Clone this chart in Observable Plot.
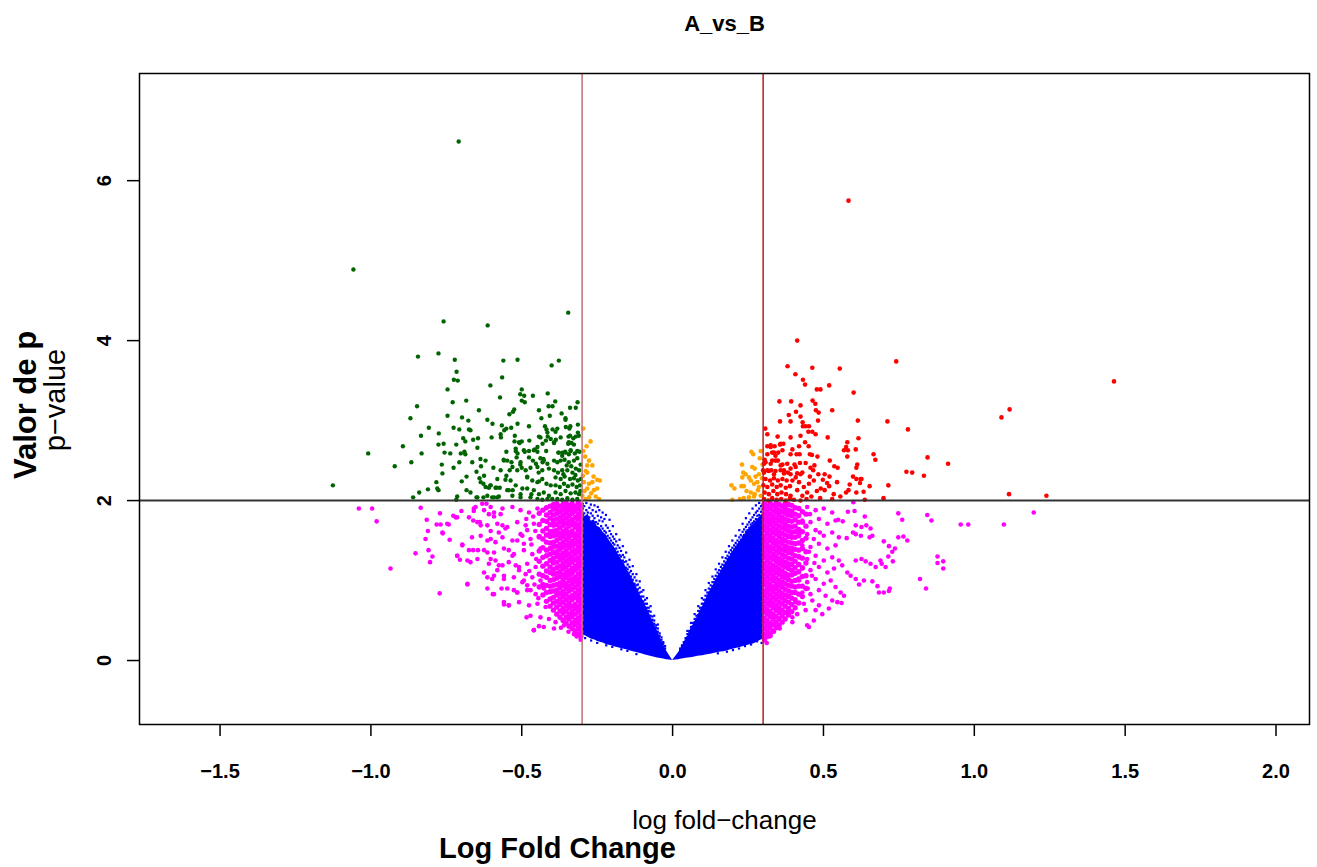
<!DOCTYPE html>
<html><head><meta charset="utf-8">
<script src="https://cdn.jsdelivr.net/npm/d3@7"></script>
<script src="https://cdn.jsdelivr.net/npm/@observablehq/plot@0.6"></script>
<style>body{margin:0;background:#fff}</style>
</head><body><div id="chart"></div>
<script>
const titleText = "A_vs_B";
const xLabelSmall = "log fold\u2212change";
const xLabelBig = "Log Fold Change";
const yLabelBig = "Valor de p";
const yLabelSmall = "p\u2212value";
const xTicks = [-1.5, -1.0, -0.5, 0.0, 0.5, 1.0, 1.5, 2.0];
const yTicks = [0, 2, 4, 6];
const fcCut = [-0.3, 0.3];
const pCut = 2;

// significant & down (green)
const greenPts = [
[-0.709,6.49],[-1.058,4.89],[-0.346,4.35],[-0.759,4.24],[-0.613,4.19],
[-0.844,3.80],[-0.776,3.84],[-0.722,3.76],[-0.561,3.75],[-0.514,3.76],[-0.377,3.75],[-0.401,3.69],
[-0.716,3.61],[-0.725,3.51],[-0.712,3.50],[-0.565,3.54],[-0.604,3.44],[-0.746,3.39],[-0.500,3.39],
[-0.505,3.33],[-0.492,3.31],[-0.463,3.31],[-0.414,3.34],[-0.572,3.29],[-0.729,3.23],[-0.684,3.25],
[-0.500,3.25],[-0.490,3.23],[-0.389,3.24],[-0.315,3.23],[-0.847,3.18],[-0.411,3.18],[-0.398,3.18],
[-0.340,3.16],[-0.321,3.16],[-0.525,3.14],[-0.529,3.11],[-0.642,3.13],[-0.443,3.13],[-0.541,3.08],
[-0.746,3.06],[-0.407,3.06],[-0.368,3.09],[-0.698,3.04],[-0.677,3.00],[-0.435,3.03],[-0.355,3.03],
[-0.869,3.03],[-0.614,3.01],[-0.597,2.96],[-0.514,2.96],[-0.314,2.95],[-0.808,2.91],[-0.726,2.91],
[-0.566,2.94],[-0.551,2.90],[-0.558,2.88],[-0.535,2.91],[-0.476,2.93],[-0.423,2.93],[-0.418,2.89],
[-0.398,2.89],[-0.388,2.86],[-0.339,2.93],[-0.342,2.90],[-0.707,2.89],[-0.675,2.89],[-0.670,2.88],
[-0.775,2.84],[-0.834,2.81],[-0.600,2.79],[-0.570,2.83],[-0.569,2.79],[-0.523,2.81],[-0.694,2.78],
[-0.661,2.76],[-0.645,2.78],[-0.443,2.80],[-0.414,2.80],[-0.387,2.76],[-0.345,2.80],[-0.329,2.78],
[-0.311,2.81],[-0.524,2.74],[-0.507,2.72],[-0.500,2.74],[-0.475,2.75],[-0.431,2.71],[-0.420,2.75],
[-0.393,2.72],[-0.346,2.71],[-0.335,2.72],[-0.776,2.70],[-0.759,2.71],[-0.717,2.70],[-0.687,2.74],
[-0.894,2.68],[-1.009,2.59],[-0.832,2.59],[-0.756,2.60],[-0.737,2.59],[-0.702,2.59],[-0.690,2.61],
[-0.687,2.58],[-0.647,2.66],[-0.551,2.61],[-0.520,2.62],[-0.514,2.59],[-0.490,2.61],[-0.476,2.62],
[-0.457,2.64],[-0.448,2.61],[-0.419,2.62],[-0.379,2.60],[-0.365,2.60],[-0.356,2.61],[-0.338,2.62],
[-0.324,2.59],[-0.309,2.61],[-0.921,2.43],[-0.866,2.48],[-0.765,2.45],[-0.726,2.41],[-0.707,2.48],
[-0.664,2.48],[-0.637,2.52],[-0.620,2.50],[-0.635,2.43],[-0.594,2.41],[-0.560,2.51],[-0.559,2.50],
[-0.540,2.38],[-0.534,2.48],[-0.505,2.45],[-0.500,2.41],[-0.471,2.41],[-0.463,2.50],[-0.453,2.46],
[-0.431,2.48],[-0.428,2.52],[-0.763,2.34],[-0.783,2.23],[-0.780,2.15],[-0.776,2.13],[-1.126,2.19],
[-0.840,2.10],[-0.811,2.14],[-0.860,2.04],[-0.699,2.24],[-0.683,2.30],[-0.683,2.13],[-0.670,2.10],
[-0.650,2.36],[-0.625,2.31],[-0.640,2.28],[-0.627,2.21],[-0.609,2.16],[-0.604,2.19],[-0.584,2.16],
[-0.573,2.16],[-0.714,2.05],[-0.717,2.01],[-0.650,2.04],[-0.627,2.04],[-0.598,2.04],[-0.581,2.04],
[-0.554,2.26],[-0.551,2.31],[-0.543,2.13],[-0.530,2.13],[-0.504,2.08],[-0.482,2.15],[-0.468,2.08],
[-0.517,2.54],[-0.487,2.38],[-0.482,2.30],[-0.444,2.35],[-0.443,2.24],
[-0.377,2.60],[-0.366,2.56],[-0.355,2.60],[-0.344,2.58],
[-0.393,2.50],[-0.382,2.48],[-0.371,2.50],[-0.358,2.51],[-0.344,2.48],[-0.327,2.50],[-0.316,2.53],
[-0.438,2.53],[-0.427,2.50],[-0.415,2.46],[-0.448,2.42],[-0.432,2.38],[-0.410,2.40],
[-0.393,2.38],[-0.380,2.35],[-0.366,2.38],[-0.349,2.38],[-0.332,2.35],[-0.321,2.40],[-0.310,2.38],
[-0.388,2.29],[-0.371,2.27],[-0.358,2.30],[-0.340,2.27],[-0.327,2.28],[-0.314,2.25],
[-0.482,2.29],[-0.465,2.25],[-0.448,2.23],[-0.432,2.27],[-0.418,2.21],[-0.404,2.19],
[-0.388,2.19],[-0.374,2.17],[-0.360,2.21],[-0.347,2.18],[-0.332,2.20],[-0.318,2.17],[-0.307,2.19],
[-0.388,2.10],[-0.371,2.08],[-0.355,2.12],[-0.338,2.09],[-0.322,2.10],[-0.310,2.08],
[-0.460,2.13],[-0.443,2.08],[-0.427,2.10],[-0.410,2.06],[-0.471,2.04],[-0.448,2.02],[-0.432,2.01],[-0.415,2.02],[-0.399,2.02],
[-0.382,2.02],[-0.366,2.01],[-0.349,2.03],[-0.332,2.01],[-0.316,2.02],
[-0.548,2.50],[-0.531,2.42],[-0.515,2.38],[-0.504,2.48],[-0.537,2.25],[-0.520,2.19],[-0.498,2.15],[-0.548,2.13],[-0.531,2.06],[-0.504,2.04],
[-0.636,2.23],[-0.620,2.17],[-0.603,2.19],[-0.587,2.16],[-0.581,2.27],[-0.570,2.38],[-0.614,2.06],[-0.592,2.04],[-0.576,2.05],[-0.647,2.04],
[-0.355,3.01],[-0.354,2.92],[-0.340,2.81],[-0.321,2.80],[-0.314,2.85],[-0.344,2.73],[-0.327,2.70],[-0.338,2.63],[-0.316,2.62],
[-0.371,2.79],[-0.382,2.90],[-0.393,2.73],[-0.404,2.77],[-0.415,2.85],[-0.438,2.79],[-0.448,2.67],[-0.460,2.63],[-0.476,2.54],
[-0.493,2.63],[-0.509,2.73],[-0.520,2.65],[-0.351,2.44],[-0.336,2.43],[-0.362,2.33],[-0.322,2.32],[-0.305,2.45],[-0.304,2.27],[-0.306,2.12]
];

// significant & up (red)
const redPts = [
[0.583,5.75],[1.463,3.49],[1.117,3.14],[1.090,3.04],[1.115,2.08],[1.239,2.06],
[0.413,4.00],[0.381,3.68],[0.463,3.66],[0.554,3.65],[0.741,3.74],[0.407,3.58],[0.432,3.51],[0.439,3.45],
[0.478,3.39],[0.490,3.39],[0.519,3.44],[0.600,3.35],[0.354,3.24],[0.393,3.24],[0.464,3.25],[0.473,3.21],
[0.424,3.19],[0.409,3.11],[0.385,3.07],[0.475,3.13],[0.484,3.10],[0.529,3.13],[0.424,3.05],[0.356,2.99],
[0.391,2.99],[0.482,3.00],[0.614,3.00],[0.712,2.99],[0.431,2.98],[0.441,2.93],[0.432,2.93],[0.452,2.93],
[0.307,2.90],[0.314,2.83],[0.450,2.86],[0.463,2.86],[0.474,2.83],[0.780,2.89],[0.348,2.80],[0.391,2.79],
[0.424,2.81],[0.514,2.79],[0.616,2.78],[0.439,2.73],[0.451,2.68],[0.314,2.68],[0.325,2.67],[0.338,2.68],
[0.356,2.70],[0.367,2.71],[0.579,2.73],[0.575,2.67],[0.568,2.63],[0.581,2.63],[0.607,2.64],[0.397,2.64],
[0.419,2.68],[0.336,2.60],[0.350,2.60],[0.391,2.58],[0.411,2.58],[0.421,2.58],[0.455,2.58],[0.462,2.57],
[0.480,2.55],[0.579,2.55],[0.666,2.58],[0.672,2.51],[0.845,2.54],[0.913,2.46],[0.305,2.51],[0.303,2.46],
[0.330,2.50],[0.349,2.50],[0.364,2.45],[0.380,2.46],[0.404,2.45],[0.422,2.47],[0.441,2.47],[0.466,2.38],
[0.457,2.41],[0.521,2.50],[0.536,2.43],[0.547,2.41],[0.612,2.45],[0.609,2.41],[0.775,2.36],[0.794,2.35],
[0.833,2.31],[0.300,2.38],[0.319,2.37],[0.336,2.33],[0.369,2.38],[0.391,2.33],[0.413,2.34],[0.430,2.35],
[0.483,2.33],[0.504,2.33],[0.520,2.30],[0.598,2.30],[0.609,2.27],[0.623,2.27],[0.621,2.22],[0.626,2.27],[0.545,2.23],
[0.587,2.20],[0.653,2.18],[0.715,2.19],[0.491,2.15],[0.504,2.13],[0.519,2.18],[0.575,2.10],[0.583,2.13],
[0.609,2.10],[0.633,2.11],[0.534,2.08],[0.699,2.03],[0.637,2.01],
[0.303,2.35],[0.314,2.38],[0.327,2.38],[0.341,2.37],[0.358,2.38],[0.369,2.34],[0.382,2.35],
[0.308,2.27],[0.323,2.25],[0.336,2.28],[0.349,2.25],[0.364,2.27],[0.378,2.25],
[0.301,2.19],[0.314,2.17],[0.330,2.20],[0.345,2.17],[0.358,2.19],[0.375,2.16],[0.389,2.18],
[0.305,2.10],[0.319,2.08],[0.334,2.12],[0.347,2.08],[0.361,2.10],[0.376,2.08],[0.391,2.06],
[0.303,2.02],[0.317,2.00],[0.330,2.03],[0.345,2.01],[0.360,2.02],[0.375,2.00],[0.389,2.03],[0.402,2.01],
[0.308,2.48],[0.325,2.46],[0.341,2.50],[0.358,2.44],[0.314,2.58],[0.330,2.60],[0.341,2.56],[0.364,2.63],[0.325,2.69],[0.358,2.71],
[0.408,2.29],[0.419,2.23],[0.424,2.33],[0.435,2.17],[0.413,2.13],[0.430,2.06],[0.446,2.10],[0.424,2.00],[0.444,2.02],[0.397,2.25],[0.391,2.40],[0.408,2.42],
[0.452,2.21],[0.468,2.25],[0.460,2.05],[0.478,2.12],[0.489,2.03],[0.470,2.44],[0.455,2.30],[0.512,2.22],[0.529,2.02],[0.556,2.05],[0.498,2.26]
];

// |logFC| < 0.3 but p past the cut (orange)
const orangePts = [
[-0.296,2.90],[-0.272,2.74],[-0.296,2.62],[-0.277,2.50],[-0.283,2.44],[-0.266,2.44],[-0.288,2.37],[-0.283,2.35],
[-0.294,2.23],[-0.277,2.21],[-0.266,2.23],[-0.250,2.26],[-0.241,2.25],[-0.283,2.15],[-0.261,2.13],[-0.250,2.15],
[-0.299,2.06],[-0.277,2.04],[-0.255,2.05],[-0.244,2.02],[-0.290,2.55],[-0.285,2.68],[-0.292,2.12],[-0.270,2.09],
[-0.288,2.02],[-0.262,2.30],[-0.297,2.31],
[0.261,2.61],[0.267,2.58],[0.292,2.62],[0.289,2.53],[0.230,2.45],[0.264,2.42],[0.272,2.40],[0.234,2.35],[0.242,2.33],
[0.231,2.29],[0.253,2.29],[0.275,2.30],[0.286,2.33],[0.195,2.19],[0.205,2.15],[0.228,2.18],[0.236,2.18],[0.259,2.25],
[0.270,2.21],[0.281,2.23],[0.286,2.17],[0.259,2.10],[0.272,2.08],[0.283,2.13],[0.292,2.06],[0.198,2.01],[0.223,2.02],
[0.236,2.03],[0.253,2.04],[0.270,2.05],[0.296,2.28],[0.298,2.45],[0.245,2.12]
];

// |logFC| > 0.3 but p below the cut (magenta), scattered points
const magentaPts = [
[-1.040,1.90],[-0.981,1.74],[-0.935,1.15],[-0.852,1.34],[-0.772,0.84],[-0.835,1.91],
[-0.815,1.76],[-0.811,1.62],[-0.819,1.52],[-0.809,1.38],[-0.796,1.30],[-0.804,1.23],
[-0.782,1.70],[-0.769,1.70],[-0.742,1.70],[-0.739,1.51],[-0.771,1.84],[-0.762,1.59],
[-0.727,1.81],[-0.714,1.79],[-0.697,1.45],[-0.714,1.31],[-0.705,1.26],[-0.680,0.95],
[-0.700,1.87],[-0.675,1.79],[-0.659,1.87],[-0.653,1.92],[-0.661,1.75],[-0.639,1.73],
[-0.665,1.54],[-0.675,1.38],[-0.680,1.25],[-0.661,1.38],[-0.645,1.38],[-0.647,1.27],[-0.670,1.23],
[-0.631,1.96],[-0.617,1.96],[-0.603,1.92],[-0.609,1.83],[-0.592,1.80],[-0.570,1.83],
[-0.636,1.69],[-0.614,1.50],[-0.603,1.62],[-0.587,1.48],[-0.576,1.60],[-0.564,1.69],[-0.554,1.65],
[-0.625,1.10],[-0.614,1.04],[-0.598,1.02],[-0.581,1.13],[-0.564,1.19],[-0.559,1.06],[-0.587,1.25],[-0.603,1.27],[-0.614,1.35],
[-0.614,0.90],[-0.596,0.83],[-0.567,0.90],[-0.559,0.70],[-0.543,0.69],[-0.526,0.88],[-0.515,0.85],
[-0.484,0.54],[-0.460,0.38],[-0.443,0.43],
[-0.543,1.38],[-0.531,1.31],[-0.515,1.50],[-0.504,1.58],[-0.482,1.63],[-0.493,1.46],[-0.520,1.19],[-0.509,1.13],
[-0.487,1.08],[-0.498,0.98],[-0.482,0.94],[-0.471,0.88],
[-0.659,1.90],[-0.625,1.88],[-0.592,1.85],[-0.564,1.90],[-0.531,1.92],[-0.504,1.88],[-0.476,1.85],[-0.448,1.90],
[-0.647,1.73],[-0.614,1.69],[-0.581,1.71],[-0.548,1.67],[-0.515,1.73],[-0.487,1.69],[-0.460,1.71],
[-0.636,1.56],[-0.603,1.52],[-0.564,1.54],[-0.531,1.50],[-0.498,1.56],[-0.471,1.52],[-0.443,1.54],
[-0.625,1.38],[-0.592,1.35],[-0.559,1.40],[-0.526,1.33],[-0.493,1.38],[-0.465,1.33],[-0.438,1.40],
[-0.609,1.21],[-0.576,1.19],[-0.543,1.23],[-0.509,1.17],[-0.482,1.21],[-0.454,1.17],
[-0.592,1.06],[-0.559,1.02],[-0.526,1.04],[-0.493,1.00],[-0.465,1.04],[-0.438,1.00],
[-0.548,0.90],[-0.515,0.85],[-0.482,0.88],[-0.454,0.83],[-0.427,0.90],
[-0.509,0.73],[-0.476,0.69],[-0.448,0.71],[-0.421,0.67],
[-0.471,0.56],[-0.438,0.54],[-0.410,0.52],[-0.388,0.48],
[-0.460,0.38],[-0.427,0.42],[-0.393,0.40],[-0.360,0.44],[-0.332,0.40],[-0.327,0.33],
[-0.747,1.71],[-0.763,1.60],[-0.719,1.79],[-0.697,1.44],[-0.714,1.31],[-0.680,0.96],[-0.559,0.73],[-0.543,0.69],[-0.592,0.83],
[-0.305,0.26],[-0.318,0.30],[-0.345,0.36],[-0.370,0.41],
[-0.455,1.62],[-0.468,1.45],[-0.452,1.27],[-0.475,1.12],[-0.458,0.95],[-0.445,0.78],[-0.462,1.80],[-0.485,1.77],
[0.599,1.98],[0.637,1.80],[0.603,1.87],[0.581,1.86],[0.564,1.74],[0.549,1.76],[0.761,1.76],[0.748,1.84],[0.844,1.82],[0.858,1.75],
[0.607,1.69],[0.626,1.67],[0.642,1.69],[0.656,1.65],[0.598,1.60],[0.577,1.53],[0.607,1.58],[0.624,1.56],[0.653,1.54],[0.662,1.56],
[0.700,1.49],[0.717,1.43],[0.728,1.36],[0.737,1.40],[0.748,1.54],[0.765,1.55],[0.778,1.50],
[0.607,1.25],[0.626,1.27],[0.640,1.24],[0.656,1.21],[0.673,1.17],[0.689,1.25],[0.693,1.21],[0.706,1.17],[0.715,1.30],[0.730,1.24],[0.897,1.24],[0.897,1.15],
[0.562,1.19],[0.579,1.10],[0.590,1.06],[0.607,1.02],[0.634,1.00],[0.662,0.99],[0.618,0.95],[0.679,0.93],[0.700,0.85],[0.720,0.90],[0.717,0.87],[0.684,0.85],
[0.540,0.92],[0.557,0.85],[0.568,0.81],[0.529,0.75],[0.546,0.73],[0.560,0.72],[0.518,0.65],[0.496,0.58],[0.474,0.63],[0.468,0.50],
[0.446,0.44],[0.452,0.42],[0.397,0.48],[0.352,0.44],[0.325,0.31],[0.308,0.29],
[0.419,1.90],[0.446,1.92],[0.474,1.88],[0.501,1.90],[0.529,1.85],
[0.430,1.75],[0.457,1.73],[0.485,1.77],[0.513,1.71],[0.540,1.75],
[0.419,1.60],[0.446,1.58],[0.474,1.63],[0.501,1.56],[0.529,1.60],[0.551,1.54],
[0.430,1.44],[0.457,1.42],[0.485,1.46],[0.513,1.40],[0.540,1.44],
[0.419,1.29],[0.446,1.27],[0.474,1.31],[0.501,1.25],[0.529,1.29],[0.551,1.25],
[0.430,1.15],[0.457,1.13],[0.485,1.17],[0.513,1.10],[0.535,1.15],
[0.419,1.00],[0.446,0.98],[0.474,1.02],[0.501,0.96],[0.524,1.00],
[0.430,0.85],[0.457,0.83],[0.485,0.88],[0.507,0.81],
[0.408,0.73],[0.435,0.71],[0.463,0.75],[0.485,0.69],
[0.385,0.60],[0.413,0.58],[0.441,0.63],[0.397,0.54],
[0.305,0.25],[0.312,0.22],[0.322,0.30],[0.336,0.36],[0.355,0.40],
[0.455,1.83],[0.468,1.52],[0.452,1.36],[0.462,1.06],[0.448,0.90],[0.470,1.22],[0.488,1.60],
[-0.996,1.90],[0.980,1.70],[1.098,1.70],[1.197,1.85],[0.878,1.30],[0.878,1.22],[0.955,1.70],[0.840,0.90],[0.820,1.02]
];

// dense magenta bands just outside the cut: [logFC, p-values read along that column]
const magentaDense = [
[-0.304,[0.30,0.36,0.43,0.51,0.56,0.64,0.71,0.77,0.85,0.90,0.98,1.05,1.11,1.19,1.24,1.32,1.39,1.45,1.52,1.60,1.65,1.73,1.80,1.86,1.94]],
[-0.313,[0.33,0.40,0.47,0.53,0.61,0.67,0.75,0.81,0.88,0.95,1.01,1.08,1.16,1.22,1.28,1.36,1.42,1.49,1.56,1.63,1.69,1.77,1.83,1.90,1.97]],
[-0.323,[0.37,0.45,0.50,0.58,0.65,0.70,0.79,0.84,0.92,0.99,1.04,1.13,1.18,1.26,1.33,1.38,1.46,1.53,1.58,1.67,1.72,1.79,1.87,1.93]],
[-0.333,[0.40,0.47,0.55,0.61,0.68,0.76,0.81,0.89,0.96,1.02,1.09,1.15,1.23,1.29,1.36,1.43,1.49,1.57,1.62,1.70,1.76,1.84,1.90,1.96]],
[-0.343,[0.43,0.52,0.58,0.66,0.72,0.79,0.87,0.93,1.00,1.07,1.12,1.20,1.27,1.33,1.41,1.47,1.54,1.60,1.68,1.74,1.81,1.88,1.94]],
[-0.353,[0.47,0.54,0.62,0.69,0.76,0.83,0.90,0.96,1.04,1.10,1.17,1.24,1.31,1.37,1.44,1.51,1.58,1.64,1.71,1.78,1.85,1.91,1.97]],
[-0.363,[0.50,0.59,0.65,0.73,0.80,0.86,0.94,1.00,1.07,1.15,1.21,1.28,1.34,1.42,1.48,1.55,1.61,1.69,1.75,1.82,1.89,1.95]],
[-0.373,[0.54,0.62,0.70,0.77,0.84,0.91,0.97,1.05,1.11,1.18,1.26,1.32,1.39,1.45,1.53,1.59,1.66,1.73,1.79,1.86,1.93]],
[-0.384,[0.58,0.67,0.74,0.82,0.88,0.95,1.03,1.09,1.16,1.23,1.30,1.36,1.43,1.50,1.57,1.63,1.70,1.77,1.84,1.90,1.96]],
[-0.395,[0.63,0.72,0.79,0.87,0.94,1.01,1.08,1.14,1.22,1.28,1.35,1.42,1.48,1.56,1.62,1.69,1.75,1.82,1.89,1.95]],
[-0.406,[0.68,0.77,0.86,0.93,1.00,1.10,1.17,1.25,1.33,1.40,1.47,1.55,1.61,1.70,1.78,1.85,1.93]],
[-0.418,[0.74,0.85,0.94,1.04,1.12,1.21,1.31,1.38,1.48,1.57,1.65,1.74,1.82,1.91]],
[-0.430,[0.82,0.95,1.06,1.18,1.29,1.41,1.52,1.62,1.75,1.88]],
[-0.442,[0.92,1.08,1.24,1.37,1.55,1.70,1.84]],
[0.304,[0.27,0.33,0.40,0.47,0.53,0.61,0.67,0.74,0.81,0.87,0.95,1.01,1.08,1.15,1.21,1.29,1.35,1.42,1.49,1.55,1.63,1.69,1.76,1.83,1.90,1.96]],
[0.313,[0.30,0.37,0.44,0.50,0.58,0.64,0.71,0.78,0.85,0.91,0.98,1.05,1.12,1.18,1.25,1.32,1.39,1.45,1.52,1.59,1.66,1.73,1.79,1.86,1.93]],
[0.323,[0.34,0.41,0.47,0.55,0.61,0.69,0.75,0.82,0.89,0.95,1.02,1.09,1.15,1.22,1.29,1.36,1.42,1.50,1.56,1.63,1.70,1.76,1.83,1.90,1.97]],
[0.333,[0.37,0.45,0.52,0.58,0.66,0.72,0.79,0.86,0.92,1.00,1.06,1.13,1.19,1.27,1.33,1.40,1.47,1.53,1.60,1.67,1.74,1.80,1.87,1.94]],
[0.343,[0.41,0.48,0.55,0.63,0.69,0.76,0.83,0.90,0.96,1.03,1.10,1.17,1.24,1.30,1.37,1.44,1.50,1.58,1.64,1.71,1.78,1.85,1.91,1.97]],
[0.353,[0.44,0.52,0.60,0.66,0.73,0.80,0.87,0.94,1.00,1.08,1.14,1.21,1.27,1.35,1.41,1.48,1.55,1.61,1.68,1.75,1.82,1.88,1.95]],
[0.363,[0.48,0.56,0.63,0.71,0.78,0.84,0.92,0.98,1.05,1.12,1.19,1.25,1.32,1.39,1.46,1.52,1.59,1.66,1.73,1.79,1.86,1.93]],
[0.373,[0.52,0.60,0.68,0.75,0.82,0.89,0.96,1.03,1.09,1.17,1.23,1.30,1.37,1.43,1.50,1.57,1.64,1.70,1.77,1.84,1.90,1.96]],
[0.384,[0.57,0.65,0.73,0.80,0.87,0.94,1.01,1.07,1.15,1.21,1.28,1.35,1.41,1.48,1.55,1.62,1.68,1.75,1.82,1.88,1.95]],
[0.395,[0.61,0.70,0.78,0.85,0.93,0.99,1.07,1.13,1.20,1.27,1.34,1.40,1.47,1.54,1.60,1.67,1.74,1.81,1.87,1.94]],
[0.406,[0.66,0.76,0.85,0.92,1.00,1.09,1.16,1.24,1.31,1.39,1.46,1.54,1.61,1.68,1.76,1.83,1.91]],
[0.418,[0.72,0.83,0.93,1.02,1.11,1.20,1.30,1.38,1.47,1.56,1.64,1.73,1.81,1.90]],
[0.430,[0.80,0.93,1.05,1.16,1.28,1.40,1.50,1.61,1.73,1.86]],
[0.442,[0.90,1.06,1.22,1.36,1.53,1.68,1.83]]
];

// dense blue V (non-significant): outline of the solid part
const blueLeftX  = [-0.300,-0.290,-0.280,-0.270,-0.260,-0.250,-0.240,-0.230,-0.220,-0.210,-0.200,-0.190,-0.180,-0.170,-0.160,-0.150,-0.140,-0.130,-0.120,-0.110,-0.100,-0.090,-0.080,-0.070,-0.060,-0.050,-0.040,-0.030,-0.020,-0.010,0];
const blueLeftHi = [1.86,1.80,1.83,1.74,1.76,1.68,1.66,1.60,1.57,1.50,1.45,1.40,1.33,1.27,1.21,1.13,1.07,0.99,0.92,0.84,0.77,0.69,0.62,0.53,0.45,0.37,0.28,0.20,0.12,0.06,0];
const blueLeftLo = [0.33,0.31,0.29,0.27,0.26,0.24,0.23,0.22,0.20,0.19,0.18,0.17,0.16,0.15,0.14,0.13,0.12,0.11,0.10,0.09,0.08,0.07,0.06,0.05,0.04,0.03,0.025,0.02,0.01,0.005,0];
const blueRightX  = [0,0.010,0.020,0.030,0.040,0.050,0.060,0.070,0.080,0.090,0.100,0.110,0.120,0.130,0.140,0.150,0.160,0.170,0.180,0.190,0.200,0.210,0.220,0.230,0.240,0.250,0.260,0.270,0.280,0.290,0.300];
const blueRightHi = [0,0.05,0.10,0.16,0.23,0.30,0.38,0.46,0.53,0.61,0.68,0.76,0.84,0.91,0.98,1.05,1.11,1.17,1.24,1.30,1.36,1.41,1.47,1.52,1.58,1.62,1.68,1.71,1.76,1.80,1.84];
const blueRightLo = [0,0.005,0.01,0.02,0.025,0.03,0.035,0.04,0.05,0.055,0.06,0.07,0.075,0.08,0.09,0.10,0.105,0.11,0.12,0.13,0.14,0.15,0.16,0.17,0.18,0.19,0.20,0.21,0.23,0.25,0.27];

// sparse blue points on the fringe of the V: [logFC, p-values]
const blueFringe = [
[-0.298,[1.90,1.96]],[-0.293,[1.84,1.93]],[-0.286,[1.88,1.97]],[-0.281,[1.85]],[-0.276,[1.79,1.91]],[-0.271,[1.84,1.95]],
[-0.265,[1.81,1.88]],[-0.259,[1.78,1.94]],[-0.254,[1.73,1.86]],[-0.248,[1.71,1.81,1.92]],[-0.243,[1.75,1.88]],[-0.237,[1.68,1.79]],
[-0.232,[1.65,1.74,1.85]],[-0.226,[1.62,1.77]],[-0.221,[1.60,1.69,1.82]],[-0.215,[1.56,1.66]],[-0.209,[1.53,1.62,1.76]],[-0.204,[1.50,1.58]],
[-0.198,[1.47,1.55,1.68]],[-0.193,[1.45,1.52]],[-0.187,[1.40,1.49,1.58]],[-0.182,[1.36,1.44]],[-0.176,[1.32,1.41,1.51]],[-0.171,[1.30,1.37]],
[-0.165,[1.25,1.32,1.43]],[-0.160,[1.23,1.29]],[-0.154,[1.16,1.24,1.35]],[-0.149,[1.14,1.20]],[-0.143,[1.10,1.17,1.26]],[-0.138,[1.05,1.12]],
[-0.132,[1.01,1.08,1.18]],[-0.126,[0.96,1.04]],[-0.120,[0.94,1.00,1.08]],[-0.115,[0.89,0.95]],[-0.109,[0.85,0.91,0.99]],[-0.103,[0.80,0.86]],
[-0.097,[0.74,0.80,0.88]],[-0.091,[0.71,0.76]],[-0.085,[0.66,0.71,0.78]],[-0.079,[0.62,0.66]],[-0.073,[0.56,0.61,0.68]],[-0.067,[0.51,0.55]],
[-0.061,[0.46,0.50,0.56]],[-0.055,[0.41,0.44]],[-0.049,[0.36,0.40,0.45]],[-0.043,[0.31,0.34]],[-0.037,[0.26,0.29]],[-0.031,[0.21,0.23]],[-0.025,[0.15,0.18]],
[-0.290,[0.28]],[-0.270,[0.25]],[-0.250,[0.22]],[-0.220,[0.19]],[-0.200,[0.17]],[-0.170,[0.14]],[-0.150,[0.12]],[-0.120,[0.08]],[-0.265,[0.35]],
[0.298,[1.89,1.95]],[0.293,[1.86,1.93]],[0.287,[1.82,1.90,1.97]],[0.281,[1.81,1.87]],[0.276,[1.77,1.85,1.94]],[0.270,[1.74,1.82]],
[0.265,[1.72,1.79,1.90]],[0.259,[1.70,1.76]],[0.254,[1.66,1.73,1.84]],[0.248,[1.63,1.70]],[0.243,[1.61,1.67,1.78]],[0.237,[1.57,1.64]],
[0.232,[1.55,1.61,1.71]],[0.226,[1.51,1.57]],[0.221,[1.48,1.54,1.63]],[0.215,[1.45,1.50]],[0.209,[1.42,1.47,1.56]],[0.204,[1.39,1.44]],
[0.198,[1.36,1.41,1.50]],[0.193,[1.33,1.38]],[0.187,[1.29,1.35,1.43]],[0.182,[1.27,1.31]],[0.176,[1.22,1.28,1.36]],[0.171,[1.19,1.24]],
[0.165,[1.15,1.20,1.29]],[0.160,[1.12,1.17]],[0.154,[1.08,1.13,1.21]],[0.149,[1.05,1.10]],[0.143,[1.01,1.06,1.14]],[0.138,[0.98,1.02]],
[0.132,[0.93,0.98,1.05]],[0.126,[0.89,0.94]],[0.120,[0.85,0.90,0.97]],[0.115,[0.81,0.85]],[0.109,[0.76,0.81,0.88]],[0.103,[0.71,0.76]],
[0.097,[0.66,0.71,0.78]],[0.091,[0.62,0.66]],[0.085,[0.57,0.62,0.68]],[0.079,[0.52,0.56]],[0.073,[0.48,0.52,0.58]],[0.067,[0.43,0.47]],
[0.061,[0.39,0.42,0.47]],[0.055,[0.34,0.37]],[0.049,[0.29,0.33,0.37]],[0.043,[0.25,0.28]],[0.037,[0.20,0.23]],[0.031,[0.17,0.19]],[0.025,[0.13,0.15]],
[0.290,[0.30]],[0.280,[0.24]],[0.260,[0.20]],[0.240,[0.18]],[0.220,[0.15]],[0.200,[0.13]],[0.180,[0.11]],[0.150,[0.09]],[0.295,[0.22]]
];

const toObj = a => a.map(([x, y]) => ({x, y}));
const cols = a => a.flatMap(([x, ys]) => ys.map(y => ({x, y})));
const band = (xs, lo, hi) => xs.map((x, i) => ({x, lo: lo[i], hi: hi[i]}));
const fmt = d => d.toFixed(1).replace("-", "\u2212");
const font = "'Liberation Sans', Arial, Helvetica, sans-serif";

const chart = Plot.plot({
  width: 1317,
  height: 867,
  marginLeft: 139,
  marginRight: 8,
  marginTop: 73,
  marginBottom: 143,
  style: {fontFamily: font, background: "white", color: "black"},
  x: {domain: [-1.767, 2.111]},
  y: {domain: [-0.8, 7.34]},
  marks: [
    Plot.areaY(band(blueLeftX, blueLeftLo, blueLeftHi), {x: "x", y1: "lo", y2: "hi", fill: "blue"}),
    Plot.areaY(band(blueRightX, blueRightLo, blueRightHi), {x: "x", y1: "lo", y2: "hi", fill: "blue"}),
    Plot.dot(cols(blueFringe), {x: "x", y: "y", r: 1.25, symbol: "square", fill: "blue"}),
    Plot.dot(cols(magentaDense), {x: "x", y: "y", r: 2.7, fill: "magenta"}),
    Plot.dot(toObj(magentaPts), {x: "x", y: "y", r: 2.3, fill: "magenta"}),
    Plot.dot(toObj(orangePts), {x: "x", y: "y", r: 2.3, fill: "orange"}),
    Plot.dot(toObj(greenPts), {x: "x", y: "y", r: 2.2, fill: "#006400"}),
    Plot.dot(toObj(redPts), {x: "x", y: "y", r: 2.3, fill: "red"}),
    Plot.ruleY([pCut], {stroke: "#333", strokeWidth: 2}),
    Plot.ruleX([fcCut[0]], {stroke: "#c07070", strokeWidth: 1.5}),
    Plot.ruleX([fcCut[1]], {stroke: "#b22222", strokeWidth: 1.5}),
    Plot.frame({stroke: "black", strokeWidth: 1.5}),
    Plot.axisX({ticks: xTicks, tickSize: 12, tickPadding: 27, tickFormat: fmt, fontSize: 20, fontWeight: "bold", label: null, strokeWidth: 1.5}),
    Plot.axisY({ticks: yTicks, tickSize: 12, tickFormat: () => "", label: null, strokeWidth: 1.5}),
    Plot.text(yTicks, {y: d => d, text: d => String(d), frameAnchor: "left", dx: -29, rotate: -90, lineAnchor: "bottom", textAnchor: "middle", fontSize: 20, fontWeight: "bold"}),
    Plot.text([titleText], {text: d => d, frameAnchor: "top", dy: -43, lineAnchor: "bottom", fontSize: 22, fontWeight: "bold"}),
    Plot.text([xLabelSmall], {text: d => d, frameAnchor: "bottom", dy: 104, lineAnchor: "bottom", fontSize: 26}),
    Plot.text([xLabelBig], {text: d => d, frameAnchor: "bottom", dx: -167, dy: 133, lineAnchor: "bottom", fontSize: 29, fontWeight: "bold"}),
    Plot.text([yLabelBig], {text: d => d, frameAnchor: "left", dx: -104, dy: 6, rotate: -90, lineAnchor: "bottom", textAnchor: "middle", fontSize: 31, fontWeight: "bold"}),
    Plot.text([yLabelSmall], {text: d => d, frameAnchor: "left", dx: -75, dy: 1, rotate: -90, lineAnchor: "bottom", textAnchor: "middle", fontSize: 29})
  ]
});
document.getElementById("chart").append(chart);
</script></body></html>
